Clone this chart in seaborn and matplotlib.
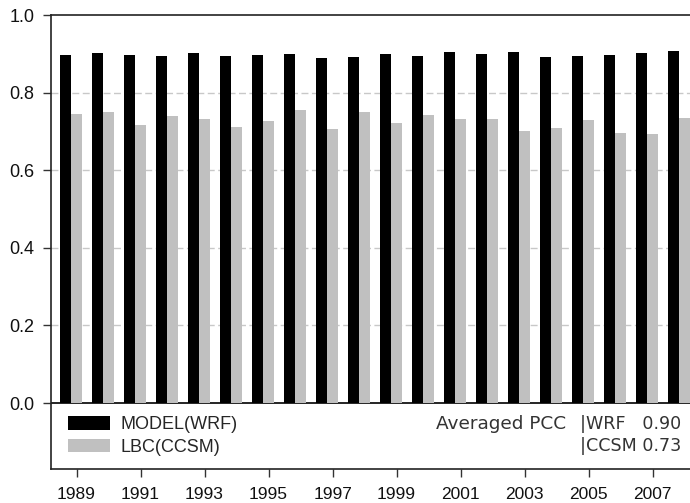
import matplotlib
matplotlib.use("Agg")
import matplotlib.pyplot as plt
import seaborn as sns
import pandas as pd
import numpy as np

years = [str(y) for y in range(1989, 2009)]
model_wrf = [0.898, 0.903, 0.898, 0.895, 0.903, 0.895, 0.898, 0.900, 0.890, 0.893,
             0.900, 0.895, 0.905, 0.900, 0.905, 0.893, 0.895, 0.898, 0.903, 0.908]
lbc_ccsm = [0.746, 0.751, 0.718, 0.741, 0.733, 0.712, 0.728, 0.756, 0.707, 0.751,
            0.723, 0.743, 0.733, 0.733, 0.702, 0.710, 0.731, 0.697, 0.694, 0.736]
series_names = ["MODEL(WRF)", "LBC(CCSM)"]
series_colors = ["#000000", "#c0c0c0"]
yticks = [0.0, 0.2, 0.4, 0.6, 0.8, 1.0]
avg_label = "Averaged PCC"
avg_lines = ["|WRF   0.90", "|CCSM 0.73"]

df = pd.DataFrame({
    "year": years * 2,
    "value": model_wrf + lbc_ccsm,
    "series": [series_names[0]] * len(years) + [series_names[1]] * len(years),
})

sns.set_theme(style="white")
plt.rcParams["font.family"] = ["Liberation Sans", "DejaVu Sans"]

fig = plt.figure(figsize=(6.9, 5.03), dpi=100)
ax = fig.add_axes([51 / 690, (503 - 469.3) / 503, 1 - 51 / 690, (469.3 - 15.3) / 503])

sns.barplot(data=df, x="year", y="value", hue="series", order=years,
            hue_order=series_names, palette=series_colors, width=0.69,
            saturation=1, ax=ax, legend=True, zorder=3,
            edgecolor="none", linewidth=0)

ax.set_xlim(-0.625, 19.34)
ax.set_ylim(-0.171, 1.0)

# grid lines
for yv in [0.2, 0.4, 0.6, 0.8]:
    ax.axhline(yv, color="#c8c8c8", lw=1.0, dashes=(5, 2.5), zorder=1)
ax.axhline(0.0, color="black", lw=1.2, zorder=2)

ax.set_yticks(yticks)
ax.set_yticklabels([f"{v:.1f}" for v in yticks], fontsize=13, color="#111111")
xt = np.arange(0, 20, 2) + 0.1725
ax.set_xticks(xt)
ax.set_xticklabels(years[::2], fontsize=12.5, color="#111111")
ax.tick_params(axis="y", direction="out", length=6, width=1, pad=6, left=True, color="#333333")
ax.tick_params(axis="x", direction="out", length=6, width=1, pad=7, bottom=True, color="#333333")
ax.set_xlabel("")
ax.set_ylabel("")

for s in ["left", "bottom", "top"]:
    ax.spines[s].set_visible(True)
    ax.spines[s].set_color("#222222")
    ax.spines[s].set_linewidth(1.2)
ax.spines["right"].set_visible(False)

leg = ax.legend(loc="upper left", frameon=False, fontsize=13, handlelength=2.3,
                handleheight=0.8, labelspacing=0.3, handletextpad=0.6,
                borderaxespad=0, borderpad=0)
leg.set_bbox_to_anchor((17 / 639, (469.3 - 416) / 454), transform=ax.transAxes)

ann_font = ["DejaVu Sans"]
fig.text(435.7 / 690, 1 - 424 / 503, avg_label, fontsize=13.3, color="#333333",
         ha="left", va="center", family=ann_font)
fig.text(580 / 690, 1 - 424 / 503, avg_lines[0], fontsize=12.6, color="#333333",
         ha="left", va="center", family=ann_font)
fig.text(580 / 690, 1 - 446 / 503, avg_lines[1], fontsize=12.6, color="#333333",
         ha="left", va="center", family=ann_font)

fig.savefig("out.png", dpi=100)
